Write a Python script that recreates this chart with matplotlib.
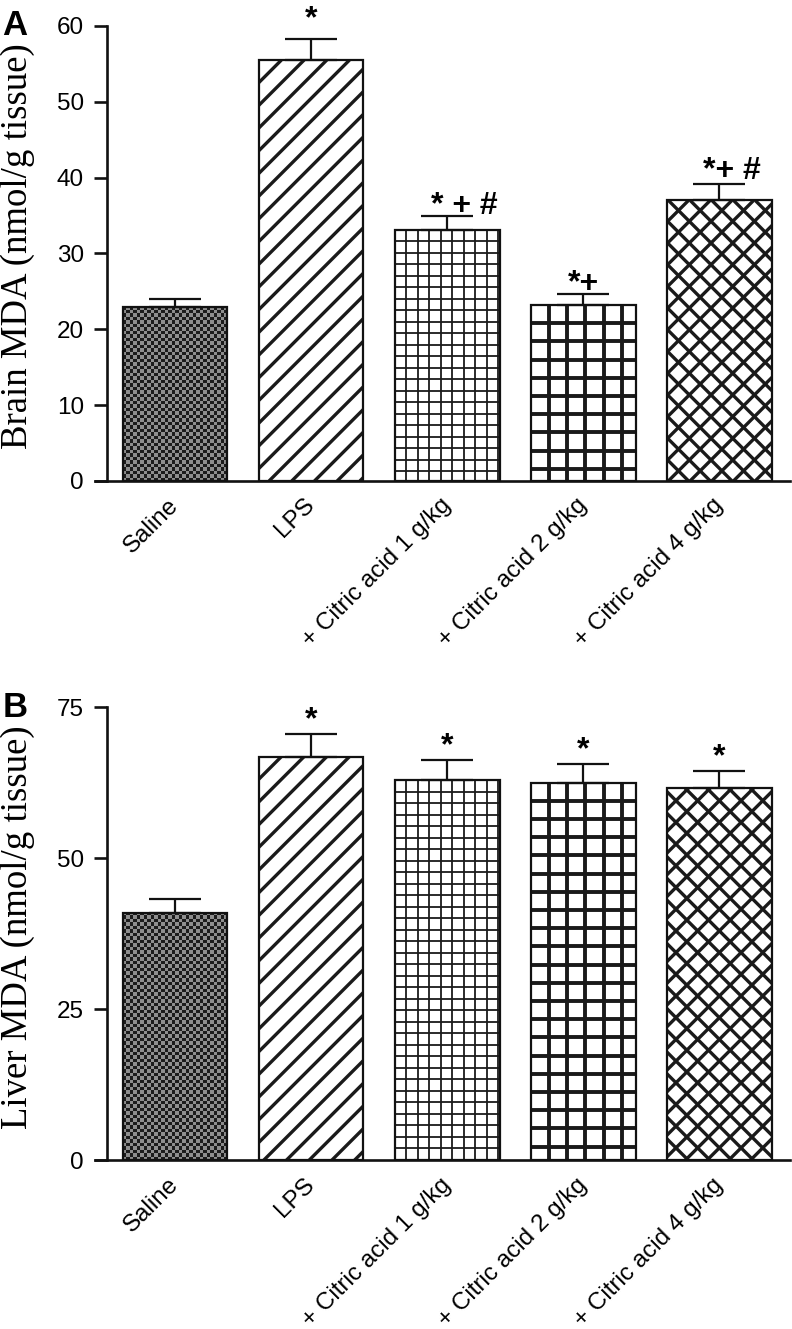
import numpy as np
import matplotlib
matplotlib.use("Agg")
import matplotlib.pyplot as plt
from matplotlib.collections import LineCollection

groups = ["Saline", "LPS", "+ Citric acid 1 g/kg", "+ Citric acid 2 g/kg", "+ Citric acid 4 g/kg"]

brain_mda = [23.0, 55.5, 33.1, 23.2, 37.0]
brain_sem = [1.0, 2.8, 1.9, 1.4, 2.2]
brain_marks = ["", "*", "* + #", "*+", "*+ #"]

liver_mda = [40.9, 66.8, 62.9, 62.5, 61.6]
liver_sem = [2.3, 3.8, 3.3, 3.1, 2.9]
liver_marks = ["", "*", "*", "*", "*"]

# fill style of each bar: (kind, spacing in px, line width in pt)
patterns = [("checker", 3.5, 0), ("diag", 22.7, 2.4), ("grid", 11.5, 1.3),
            ("grid", 18.2, 2.8), ("cross", 21.7, 2.4)]

plt.rcParams["font.family"] = ["Liberation Sans", "DejaVu Sans"]

BAR_W = 0.77


def px_scale(ax):
    o = ax.transData.transform((0, 0))
    p = ax.transData.transform((1, 1))
    return p[0] - o[0], p[1] - o[1]


def fill_pattern(ax, bar, kind, step, lw):
    sx, sy = px_scale(ax)
    x0, y0 = bar.get_x(), bar.get_y()
    W, H = bar.get_width() * sx, bar.get_height() * sy
    if kind == "checker":
        nx = int(round(W / step))
        ny = int(round(H / step))
        ii, jj = np.indices((ny, nx))
        board = ((ii + jj) % 2).astype(float)
        im = ax.imshow(board, cmap=matplotlib.colors.ListedColormap(["#8e8e8e", "#1c1c1c"]),
                       extent=(x0, x0 + bar.get_width(), y0, y0 + bar.get_height()),
                       aspect="auto", interpolation="nearest", origin="lower", zorder=2)
        im.set_clip_path(bar)
        return
    segs = []
    if kind in ("diag", "cross"):
        for c in np.arange(-H, W + step, step):
            segs.append([(c, 0), (c + H, H)])
    if kind == "cross":
        for c in np.arange(-H, W + step, step):
            segs.append([(c, H), (c + H, 0)])
    if kind == "grid":
        for c in np.arange(step, W, step):
            segs.append([(c, 0), (c, H)])
        for c in np.arange(H - step, 0, -step):
            segs.append([(0, c), (W, c)])
    segs = [[(x0 + a / sx, y0 + b / sy) for a, b in s] for s in segs]
    lc = LineCollection(segs, colors="#1a1a1a", linewidths=lw, zorder=2)
    ax.add_collection(lc)
    # clip after adding, add_collection would reset it to the axes patch
    lc.set_clip_path(bar)


def panel(ax, values, sem, marks, ymax, yticks, ylabel, letter, mark_dx, mark_dy):
    x = np.arange(len(groups))
    ax.set_xlim(-0.5, 4.52)
    ax.set_ylim(0, ymax)
    ax.set_autoscale_on(False)
    bars = ax.bar(x, values, width=BAR_W, color="white", edgecolor="none", zorder=1)
    for bar, (kind, step, lw) in zip(bars, patterns):
        fill_pattern(ax, bar, kind, step, lw)
    ax.bar(x, values, width=BAR_W, fill=False, edgecolor="#111111", linewidth=1.6, zorder=3)
    ax.errorbar(x, values, yerr=[np.zeros(len(sem)), sem], fmt="none", ecolor="#111111",
                elinewidth=1.6, capsize=18.7, capthick=1.6, zorder=3)
    for xi, v, e, m, dx, dy in zip(x, values, sem, marks, mark_dx, mark_dy):
        if m:
            ax.annotate(m, xy=(xi, v + e), xytext=(dx, dy), textcoords="offset points",
                        ha="center", va="baseline", fontsize=23, fontweight="bold")

    for side in ("top", "right"):
        ax.spines[side].set_visible(False)
    for side in ("left", "bottom"):
        ax.spines[side].set_linewidth(1.9)
        ax.spines[side].set_color("#111111")
    ax.spines["bottom"].set_bounds(-0.59, 4.52)

    ax.set_yticks(yticks)
    ax.tick_params(axis="y", length=9.5, width=1.9, labelsize=17.5, pad=7, color="#111111")
    ax.tick_params(axis="x", length=0, pad=15)
    ax.set_xticks(x)
    ax.set_xticklabels(groups, rotation=45, ha="right", va="center", rotation_mode="anchor",
                       fontsize=17.5)
    ax.set_ylabel(ylabel, family=["Liberation Serif", "DejaVu Serif"], fontsize=26.5)
    ax.yaxis.set_label_coords(-0.105, 0.515)
    ax.text(-0.153, 1.0, letter, transform=ax.transAxes, fontsize=25, fontweight="bold",
            ha="left", va="center")


fig = plt.figure(figsize=(7.92, 13.29), dpi=100)
ax_a = fig.add_axes([0.1351, 0.6381, 0.8624, 0.3424])
ax_b = fig.add_axes([0.1351, 0.1268, 0.8624, 0.3412])

panel(ax_a, brain_mda, brain_sem, brain_marks, 60, [0, 10, 20, 30, 40, 50, 60],
      "Brain MDA (nmol/g tissue)", "A", [0, 0, 12, 0, 9], [1, 8, 1, 2, 3])
panel(ax_b, liver_mda, liver_sem, liver_marks, 75, [0, 25, 50, 75],
      "Liver MDA (nmol/g tissue)", "B", [0, 0, 0, 0, 0], [3, 4, 4, 4, 4])

fig.savefig("out.png", dpi=100)
